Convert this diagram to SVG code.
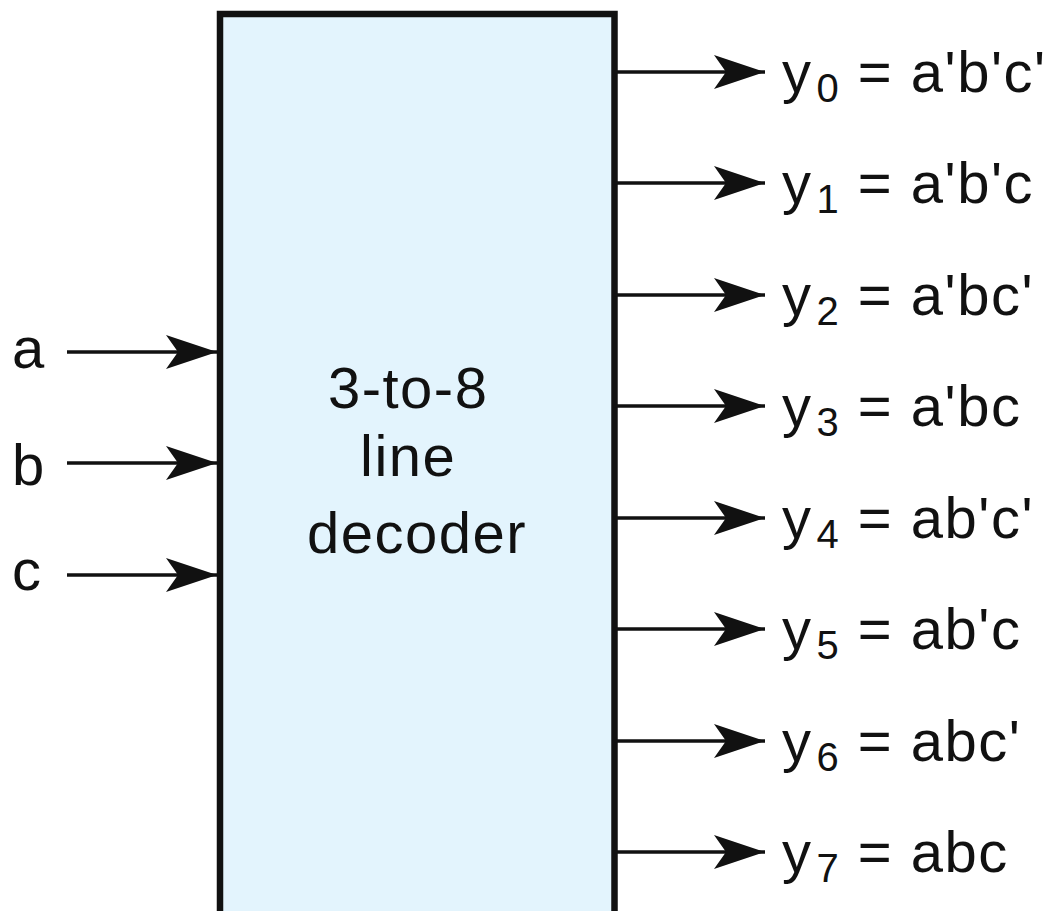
<svg xmlns="http://www.w3.org/2000/svg" width="1063" height="911" viewBox="0 0 1063 911">
  <style>
    .lbl { font-family: "Liberation Sans", Arial, sans-serif; font-size: 58px; letter-spacing: 1.5px; fill: #111; }
    .sub { font-size: 40px; }
    .wire { stroke: #111; stroke-width: 3.5; fill: none; }
  </style>
  <defs>
    <marker id="arrow" markerUnits="userSpaceOnUse" viewBox="-52 -18 53 36" markerWidth="53" markerHeight="36" refX="0" refY="0" orient="auto">
      <path d="M0,0 L-51,-17 L-39,0 L-51,17 Z" fill="#111"/>
    </marker>
  </defs>
  <rect width="1063" height="911" fill="#ffffff"/>

  <!-- decoder block -->
  <g id="decoder">
    <rect x="220" y="14" width="394.5" height="920" fill="#e3f4fd" stroke="#111" stroke-width="6.5"/>
    <text class="lbl" text-anchor="middle">
      <tspan x="417" y="408">3-to-8</tspan>
      <tspan x="417" y="476">line</tspan>
      <tspan x="417" y="553">decoder</tspan>
    </text>
  </g>

  <!-- input labels -->
  <g id="in-a"><text class="lbl" x="12" y="368">a</text></g>
  <g id="in-b"><text class="lbl" x="12" y="485">b</text></g>
  <g id="in-c"><text class="lbl" x="12" y="590">c</text></g>

  <!-- output labels -->
  <g id="out-y0"><text class="lbl" x="782" y="92">y<tspan class="sub" dx="4" dy="10">0</tspan><tspan dy="-10"> = a'b'c'</tspan></text></g>
  <g id="out-y1"><text class="lbl" x="782" y="203">y<tspan class="sub" dx="4" dy="10">1</tspan><tspan dy="-10"> = a'b'c</tspan></text></g>
  <g id="out-y2"><text class="lbl" x="782" y="315">y<tspan class="sub" dx="4" dy="10">2</tspan><tspan dy="-10"> = a'bc'</tspan></text></g>
  <g id="out-y3"><text class="lbl" x="782" y="426">y<tspan class="sub" dx="4" dy="10">3</tspan><tspan dy="-10"> = a'bc</tspan></text></g>
  <g id="out-y4"><text class="lbl" x="782" y="538">y<tspan class="sub" dx="4" dy="10">4</tspan><tspan dy="-10"> = ab'c'</tspan></text></g>
  <g id="out-y5"><text class="lbl" x="782" y="649">y<tspan class="sub" dx="4" dy="10">5</tspan><tspan dy="-10"> = ab'c</tspan></text></g>
  <g id="out-y6"><text class="lbl" x="782" y="761">y<tspan class="sub" dx="4" dy="10">6</tspan><tspan dy="-10"> = abc'</tspan></text></g>
  <g id="out-y7"><text class="lbl" x="782" y="872">y<tspan class="sub" dx="4" dy="10">7</tspan><tspan dy="-10"> = abc</tspan></text></g>

  <!-- connectors -->
  <g id="connectors" class="wire" marker-end="url(#arrow)">
    <line x1="67" y1="352" x2="217" y2="352"/>
    <line x1="67" y1="463" x2="217" y2="463"/>
    <line x1="67" y1="575" x2="217" y2="575"/>
    <line x1="614" y1="72" x2="765" y2="72"/>
    <line x1="614" y1="183" x2="765" y2="183"/>
    <line x1="614" y1="295" x2="765" y2="295"/>
    <line x1="614" y1="406" x2="765" y2="406"/>
    <line x1="614" y1="518" x2="765" y2="518"/>
    <line x1="614" y1="629" x2="765" y2="629"/>
    <line x1="614" y1="741" x2="765" y2="741"/>
    <line x1="614" y1="852" x2="765" y2="852"/>
  </g>
</svg>
